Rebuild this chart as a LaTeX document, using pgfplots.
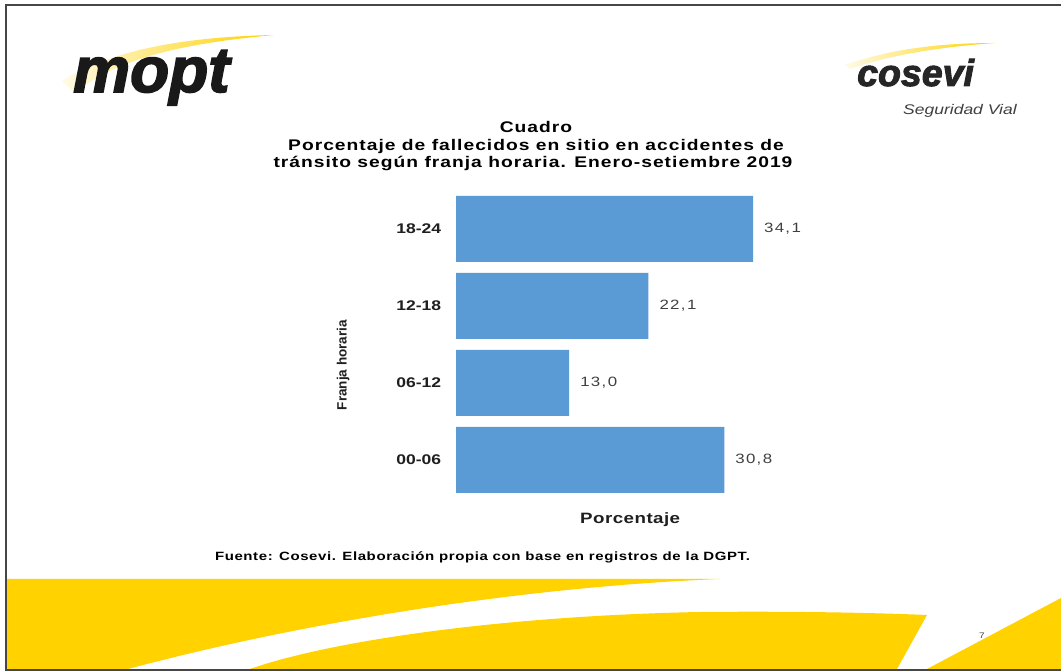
\documentclass[border=0pt]{standalone}
\usepackage{pgfplots}
\pgfplotsset{compat=1.18}
\usepackage{pgfplotstable}
\usepackage{fontspec}
\setmainfont{Liberation Sans}[FakeStretch=1.25]
\newfontfamily\titlefont{Liberation Sans}[FakeStretch=1.25, LetterSpace=6.5]
\newfontfamily\valfont{Liberation Sans}[FakeStretch=1.25, LetterSpace=10]
\newfontfamily\xlabfont{Liberation Sans}[FakeStretch=1.25, LetterSpace=3]
\newfontfamily\srcfont{Liberation Sans}[FakeStretch=1.25, LetterSpace=5]
\newfontfamily\plainfont{Liberation Sans}
\newfontfamily\logofont{Liberation Sans}[FakeBold=2.5]
\definecolor{barblue}{RGB}{91,155,213}
\definecolor{ylw}{RGB}{255,210,0}
\definecolor{txtgray}{RGB}{64,64,64}
\definecolor{framegray}{RGB}{70,70,70}

\pgfplotstableread{
idx val
0 30.8
1 13.0
2 22.1
3 34.1
}\datatable

\begin{document}
\begin{tikzpicture}[x=1pt,y=1pt]
\useasboundingbox (0,0) rectangle (1061,671);
\fill[white] (0,0) rectangle (1061,671);
% bottom decoration
\fill[ylw] (6,2) -- (6,92) -- (720,92) .. controls (520,84) and (300,48) .. (128,2) -- cycle;
\fill[ylw] (250,2) .. controls (330,30) and (500,55) .. (700,59) .. controls (800,60) and (880,58) .. (927,56) -- (897,2) -- cycle;
\fill[ylw] (927,2) -- (1061,73) -- (1061,2) -- cycle;
% frame
\draw[framegray, line width=1.5pt] (1061,666) -- (6,666) -- (6,1) -- (1061,1);
% logos
\shade[left color=ylw!10, right color=ylw] (62,590) .. controls (110,620) and (180,634) .. (274,636) .. controls (190,628) and (120,615) .. (75,578) -- cycle;
\node[anchor=base west, inner sep=0, text=black!90] at (73,579) {\logofont\fontsize{64}{64}\selectfont\bfseries\itshape mopt};
\shade[left color=ylw!10, right color=ylw] (845,606) .. controls (890,622) and (940,628) .. (995,628) .. controls (940,624) and (890,616) .. (850,602) -- cycle;
\node[anchor=base west, inner sep=0, text=black!85] at (857,585) {\logofont\fontsize{37.5}{37.5}\selectfont\bfseries\itshape cosevi};
\node[anchor=base west, inner sep=0, text=txtgray] at (903,556) {\fontsize{14}{14}\selectfont\itshape Seguridad Vial};
% title
\node[anchor=base, inner sep=0] at (536,538) {\titlefont\fontsize{15.4}{17}\selectfont\bfseries Cuadro};
\node[anchor=base, inner sep=0] at (536,520) {\titlefont\fontsize{15.4}{17}\selectfont\bfseries Porcentaje de fallecidos en sitio en accidentes de};
\node[anchor=base, inner sep=0] at (533,503) {\titlefont\fontsize{15.4}{17}\selectfont\bfseries tránsito según franja horaria. Enero-setiembre 2019};
% source
\node[anchor=base, inner sep=0] at (482.5,110) {\srcfont\fontsize{12}{14}\selectfont\bfseries Fuente: Cosevi. Elaboración propia con base en registros de la DGPT.};
\node[anchor=base, inner sep=0, text=txtgray] at (982,32) {\fontsize{8}{8}\selectfont 7};

\begin{axis}[
  at={(456pt,172.5pt)}, anchor=south west,
  scale only axis, width=348.4pt, height=308pt,
  xbar, xmin=0, xmax=40, ymin=-0.5, ymax=3.5,
  ytick={0,1,2,3}, yticklabels={00-06,06-12,12-18,18-24},
  xtick=\empty,
  axis line style={draw=none}, tick style={draw=none},
  yticklabel style={font=\fontsize{14}{16}\selectfont\bfseries, text=black!88, xshift=-7pt},
  xlabel={Porcentaje}, ylabel={Franja horaria},
  every axis x label/.style={at={(axis description cs:0.5,0)}, anchor=base, yshift=-25.5pt, font=\xlabfont\fontsize{15}{17}\selectfont\bfseries, text=black!88},
  every axis y label/.style={at={(axis description cs:-0.3243,0.4334)}, rotate=90, anchor=center, font=\plainfont\fontsize{13.5}{15}\selectfont\bfseries, text=black!88},
  /pgf/number format/assume math mode=true,
  point meta=x,
  nodes near coords={\pgfmathprintnumber[use comma,fixed,fixed zerofill,precision=1]{\pgfplotspointmeta}},
  nodes near coords style={anchor=west, xshift=7.5pt, font=\valfont\fontsize{13.5}{15}\selectfont, text=txtgray},
  clip=false,
]
\addplot[xbar, fill=barblue, draw=none, bar width=66pt] table[x=val,y=idx]{\datatable};
\end{axis}
\end{tikzpicture}
\end{document}
